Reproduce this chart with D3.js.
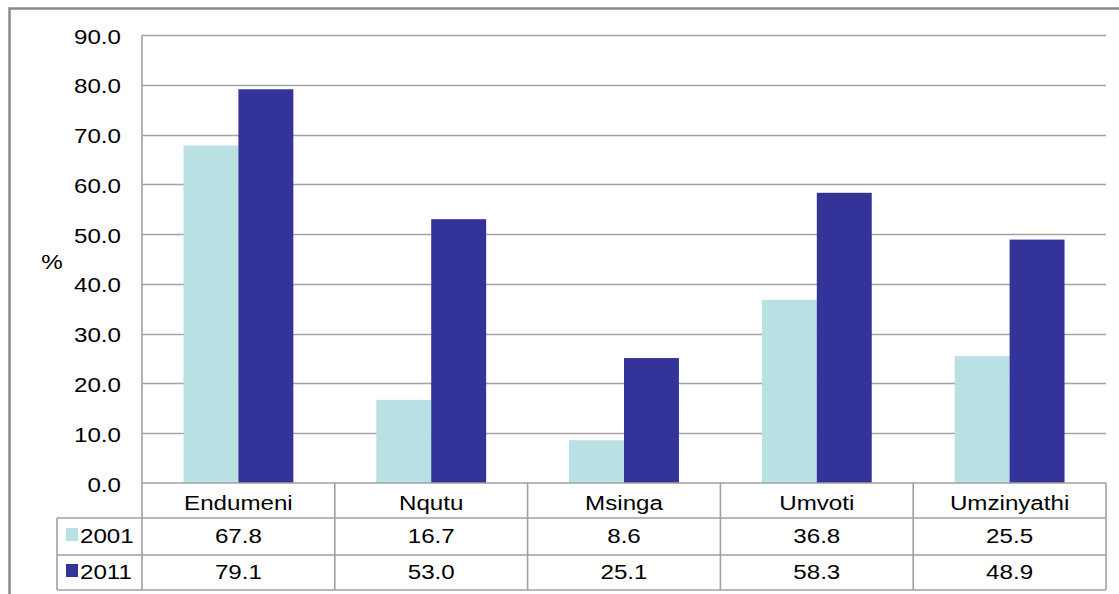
<!DOCTYPE html>
<html>
<head>
<meta charset="utf-8">
<script src="https://cdn.jsdelivr.net/npm/d3@7"></script>
<style>
  html, body { margin: 0; padding: 0; background: #fff; }
  svg text { font-family: "Liberation Sans", Arial, sans-serif; fill: #000; }
</style>
</head>
<body>
<svg id="chart" width="1119" height="594"></svg>
<script>
// Municipalities and percentages per census year
const categories = ["Endumeni", "Nqutu", "Msinga", "Umvoti", "Umzinyathi"];
const years = ["2001", "2011"];
const values2001 = [67.8, 16.7, 8.6, 36.8, 25.5];
const values2011 = [79.1, 53.0, 25.1, 58.3, 48.9];
const yTicks = [0, 10, 20, 30, 40, 50, 60, 70, 80, 90];
const colors = ["#b9e0e3", "#333399"];

const series = [values2001, values2011];

const FONT = 21;      // label size
const STRETCH = 1.15; // labels are set slightly wide

const svg = d3.select("#chart");

// helper: place a wide-set label at (x, y)
function label(parent, x, y, text, anchor) {
  return parent.append("text")
    .attr("transform", `translate(${x},${y}) scale(${STRETCH},1)`)
    .attr("text-anchor", anchor || "middle")
    .attr("font-size", FONT)
    .text(text);
}

// Outer frame
svg.append("path")
  .attr("d", "M9.5,594 L9.5,8.5 L1119,8.5")
  .attr("fill", "none")
  .attr("stroke", "#8a8a8a")
  .attr("stroke-width", 2.5);

const plotLeft = 142, plotRight = 1106, plotTop = 35, plotBottom = 483;
const rowY = [483, 518, 555, 590];

const x = d3.scaleBand().domain(categories).range([plotLeft, plotRight]).paddingInner(0).paddingOuter(0);
const y = d3.scaleLinear().domain([0, 90]).range([plotBottom, plotTop]);
const inner = d3.scaleBand().domain(years).range([0, x.bandwidth()]).paddingOuter(0.755).paddingInner(0);

// Horizontal gridlines
svg.append("g")
  .selectAll("line")
  .data(yTicks.filter(d => d > 0))
  .join("line")
  .attr("x1", plotLeft).attr("x2", plotRight)
  .attr("y1", d => Math.round(y(d)) + 0.5).attr("y2", d => Math.round(y(d)) + 0.5)
  .attr("stroke", "#a3a3a3")
  .attr("stroke-width", 1.6);

// Bars
series.forEach((vals, si) => {
  svg.append("g")
    .selectAll("rect")
    .data(categories)
    .join("rect")
    .attr("x", (c) => x(c) + inner(years[si]))
    .attr("width", inner.bandwidth())
    .attr("y", (c, i) => y(vals[i]))
    .attr("height", (c, i) => plotBottom - y(vals[i]))
    .attr("fill", colors[si]);
});

// Y axis tick labels
const yAxis = d3.axisLeft(y).tickValues(yTicks).tickFormat(d3.format(".1f")).tickSize(0);
const ya = svg.append("g").attr("transform", `translate(${plotLeft},0)`).call(yAxis);
ya.select(".domain").remove();
ya.selectAll(".tick text")
  .attr("x", null).attr("dy", null)
  .attr("transform", `translate(-21,8) scale(${STRETCH},1)`)
  .attr("text-anchor", "end")
  .attr("font-size", FONT)
  .attr("font-family", "Liberation Sans, Arial, sans-serif")
  .attr("fill", "#000");

// Axis title
label(svg, 52, 269, "%");

// Data table below the plot
const gridColor = "#a0a0a0";
const tbl = svg.append("g");
const legendLeft = 57;

// horizontal table rules
tbl.append("line").attr("x1", plotLeft).attr("x2", plotRight).attr("y1", rowY[0]).attr("y2", rowY[0]).attr("stroke", gridColor).attr("stroke-width", 1.6);
[rowY[1], rowY[2], rowY[3]].forEach(yy => {
  tbl.append("line").attr("x1", legendLeft).attr("x2", plotRight).attr("y1", yy).attr("y2", yy).attr("stroke", gridColor).attr("stroke-width", 1.6);
});
// vertical table rules
const colEdges = categories.map(c => x(c)).concat([plotRight]);
colEdges.forEach((xx, i) => {
  tbl.append("line")
    .attr("x1", xx).attr("x2", xx)
    .attr("y1", i === 0 ? plotTop : rowY[0]).attr("y2", rowY[3])
    .attr("stroke", gridColor).attr("stroke-width", 1.6);
});
tbl.append("line").attr("x1", legendLeft).attr("x2", legendLeft).attr("y1", rowY[1]).attr("y2", rowY[3]).attr("stroke", gridColor).attr("stroke-width", 1.6);

// category header row
categories.forEach(c => label(tbl, x(c) + x.bandwidth() / 2, 510, c));

// value rows with legend keys
const baselines = [543, 579];
series.forEach((vals, si) => {
  const base = baselines[si];
  tbl.append("rect").attr("x", 66).attr("y", base - 15).attr("width", 12).attr("height", 13).attr("fill", colors[si]);
  label(tbl, 80, base, years[si], "start");
  categories.forEach((c, i) => label(tbl, x(c) + x.bandwidth() / 2, base, vals[i].toFixed(1)));
});
</script>
</body>
</html>
